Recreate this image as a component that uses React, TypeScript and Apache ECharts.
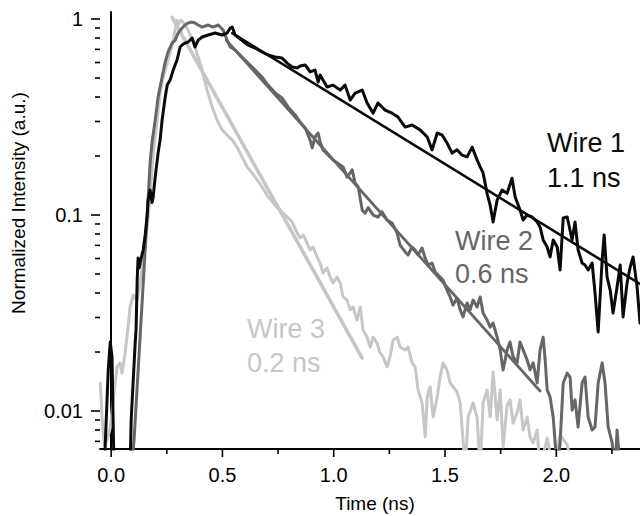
import React, { useEffect, useRef } from "react";
import * as echarts from "echarts";

const X_MIN = -0.05;
const X_MAX = 2.376;
const Y_MIN = 0.0064;
const Y_MAX = 1.086;

const xMajorTicks = [0, 0.5, 1, 1.5, 2];
const xMinorTicks = [0.25, 0.75, 1.25, 1.75, 2.25];
const yMajorTicks = [0.01, 0.1, 1];
const yMinorTicks = [
  0.007, 0.008, 0.009,
  0.02, 0.03, 0.04, 0.05, 0.06, 0.07, 0.08, 0.09,
  0.2, 0.3, 0.4, 0.5, 0.6, 0.7, 0.8, 0.9,
];

const xAxisTitle = "Time (ns)";
const yAxisTitle = "Normalized Intensity (a.u.)";

// Wire 1 measured decay [time ns, normalized intensity]
const wire1Data: [number, number][] = [
  [-0.031, 0.005], [-0.013, 0.0162], [-0.004, 0.0225], [0.004, 0.0189], [0.013, 0.005],
  [0.085, 0.005], [0.09, 0.009], [0.108, 0.0222], [0.112, 0.0259], [0.117, 0.0466],
  [0.121, 0.0603], [0.126, 0.0537], [0.135, 0.0603], [0.144, 0.0663], [0.153, 0.0791],
  [0.162, 0.1], [0.166, 0.119], [0.175, 0.134], [0.184, 0.116], [0.189, 0.124],
  [0.198, 0.156], [0.211, 0.207], [0.22, 0.241], [0.229, 0.305], [0.243, 0.4],
  [0.252, 0.46], [0.265, 0.488], [0.279, 0.549], [0.296, 0.618], [0.31, 0.72],
  [0.319, 0.737], [0.332, 0.754], [0.346, 0.763], [0.364, 0.8], [0.377, 0.72],
  [0.391, 0.781], [0.409, 0.81], [0.436, 0.829], [0.467, 0.848], [0.499, 0.829],
  [0.521, 0.848], [0.535, 0.9], [0.544, 0.91], [0.557, 0.829], [0.58, 0.791],
  [0.615, 0.737], [0.647, 0.711], [0.678, 0.679], [0.705, 0.655], [0.737, 0.64],
  [0.768, 0.632], [0.791, 0.596], [0.813, 0.569], [0.836, 0.562], [0.849, 0.576],
  [0.872, 0.583], [0.894, 0.537], [0.916, 0.549], [0.93, 0.477], [0.939, 0.518],
  [0.97, 0.45], [0.997, 0.46], [1.029, 0.434], [1.051, 0.46], [1.074, 0.386],
  [1.096, 0.419], [1.128, 0.434], [1.15, 0.373], [1.177, 0.331], [1.199, 0.373],
  [1.231, 0.343], [1.262, 0.331], [1.289, 0.316], [1.321, 0.281], [1.352, 0.288],
  [1.388, 0.272], [1.42, 0.25], [1.442, 0.215], [1.465, 0.262], [1.487, 0.256],
  [1.509, 0.233], [1.532, 0.207], [1.554, 0.215], [1.577, 0.202], [1.599, 0.198],
  [1.622, 0.222], [1.644, 0.191], [1.658, 0.176], [1.671, 0.164], [1.689, 0.129],
  [1.703, 0.112], [1.716, 0.0921], [1.734, 0.119], [1.756, 0.134], [1.779, 0.129],
  [1.801, 0.154], [1.815, 0.124], [1.837, 0.106], [1.851, 0.0943], [1.869, 0.1],
  [1.891, 0.0977], [1.914, 0.0921], [1.927, 0.0869], [1.941, 0.0746], [1.959, 0.0687],
  [1.972, 0.0611], [1.986, 0.0746], [2.004, 0.0687], [2.017, 0.0524], [2.031, 0.0965],
  [2.049, 0.0977], [2.071, 0.0746], [2.084, 0.0921], [2.098, 0.0663], [2.116, 0.0569],
  [2.129, 0.0556], [2.143, 0.0524], [2.161, 0.0569], [2.174, 0.04], [2.188, 0.0253],
  [2.206, 0.0589], [2.215, 0.0791], [2.228, 0.0483], [2.242, 0.0414], [2.255, 0.0316],
  [2.273, 0.0429], [2.287, 0.0556], [2.3, 0.0302], [2.318, 0.045], [2.332, 0.0543],
  [2.345, 0.0611], [2.363, 0.0429], [2.376, 0.0281],
];

// Wire 2 measured decay
const wire2Data: [number, number][] = [
  [0.09, 0.005], [0.103, 0.00711], [0.166, 0.119], [0.175, 0.184], [0.184, 0.236],
  [0.198, 0.305], [0.211, 0.4], [0.229, 0.506], [0.243, 0.604], [0.256, 0.679],
  [0.274, 0.754], [0.288, 0.781], [0.301, 0.848], [0.319, 0.9], [0.332, 0.932],
  [0.346, 0.954], [0.364, 0.965], [0.377, 0.954], [0.391, 0.932], [0.409, 0.91],
  [0.436, 0.932], [0.458, 0.91], [0.481, 0.932], [0.503, 0.879], [0.521, 0.781],
  [0.535, 0.72], [0.557, 0.695], [0.588, 0.64], [0.615, 0.596], [0.647, 0.549],
  [0.678, 0.506], [0.705, 0.46], [0.737, 0.419], [0.768, 0.395], [0.795, 0.356],
  [0.827, 0.324], [0.849, 0.298], [0.872, 0.278], [0.894, 0.241], [0.903, 0.22],
  [0.916, 0.25], [0.93, 0.262], [0.939, 0.236], [0.952, 0.215], [0.997, 0.191],
  [1.042, 0.176], [1.06, 0.156], [1.083, 0.17], [1.096, 0.146], [1.11, 0.139],
  [1.128, 0.106], [1.141, 0.102], [1.155, 0.109], [1.177, 0.1], [1.199, 0.0977],
  [1.217, 0.104], [1.24, 0.0943], [1.262, 0.091], [1.285, 0.0809], [1.298, 0.0703],
  [1.321, 0.0648], [1.334, 0.0625], [1.352, 0.0687], [1.366, 0.0663], [1.379, 0.0625],
  [1.397, 0.0679], [1.411, 0.0603], [1.424, 0.0556], [1.442, 0.0569], [1.456, 0.0512],
  [1.478, 0.0483], [1.491, 0.0466], [1.509, 0.0414], [1.523, 0.0382], [1.536, 0.0347],
  [1.554, 0.0377], [1.568, 0.0328], [1.581, 0.0302], [1.599, 0.0356], [1.613, 0.0328],
  [1.626, 0.0368], [1.644, 0.0339], [1.658, 0.0382], [1.671, 0.0316], [1.689, 0.0291],
  [1.703, 0.0268], [1.716, 0.0281], [1.734, 0.0238], [1.748, 0.0205], [1.756, 0.0176],
  [1.761, 0.0162], [1.779, 0.0205], [1.792, 0.0225], [1.806, 0.0189], [1.824, 0.0176],
  [1.837, 0.0225], [1.851, 0.0205], [1.869, 0.0182], [1.882, 0.0162], [1.896, 0.0176],
  [1.914, 0.0139], [1.927, 0.0205], [1.941, 0.0238], [1.95, 0.0182], [1.959, 0.0128],
  [1.972, 0.0118], [1.986, 0.00932], [2.004, 0.005], [2.017, 0.00687], [2.031, 0.0139],
  [2.049, 0.0156], [2.062, 0.0149], [2.071, 0.0101], [2.084, 0.0114], [2.098, 0.00829],
  [2.116, 0.0139], [2.129, 0.0149], [2.143, 0.00932], [2.161, 0.008], [2.174, 0.00829],
  [2.188, 0.0139], [2.206, 0.0176], [2.219, 0.0139], [2.233, 0.00829], [2.251, 0.00687],
  [2.264, 0.005], [2.273, 0.008], [2.287, 0.005], [2.376, 0.005],
];

// Wire 3 measured decay
const wire3Data: [number, number][] = [
  [-0.049, 0.0139], [-0.04, 0.009], [-0.031, 0.00671], [-0.018, 0.00711], [-0.004, 0.00819],
  [0.009, 0.0114], [0.027, 0.0168], [0.04, 0.0176], [0.049, 0.0156], [0.063, 0.0198],
  [0.076, 0.0268], [0.085, 0.0339], [0.099, 0.0391], [0.117, 0.0368], [0.13, 0.045],
  [0.144, 0.0589], [0.162, 0.0869], [0.175, 0.124], [0.189, 0.207], [0.207, 0.305],
  [0.22, 0.419], [0.234, 0.506], [0.252, 0.596], [0.265, 0.671], [0.279, 0.781],
  [0.288, 0.879], [0.296, 0.988], [0.301, 0.932], [0.314, 0.988], [0.323, 0.965],
  [0.346, 0.879], [0.377, 0.72], [0.409, 0.549], [0.431, 0.434], [0.454, 0.356],
  [0.476, 0.305], [0.499, 0.272], [0.521, 0.256], [0.544, 0.241], [0.566, 0.222],
  [0.588, 0.198], [0.611, 0.176], [0.633, 0.164], [0.656, 0.151], [0.678, 0.139],
  [0.705, 0.124], [0.737, 0.112], [0.759, 0.106], [0.791, 0.0977], [0.813, 0.0921],
  [0.836, 0.0809], [0.849, 0.0763], [0.863, 0.0791], [0.88, 0.072], [0.894, 0.0663],
  [0.907, 0.0687], [0.925, 0.0611], [0.939, 0.0569], [0.952, 0.0506], [0.97, 0.0537],
  [0.984, 0.0483], [0.997, 0.045], [1.015, 0.0483], [1.029, 0.045], [1.042, 0.0382],
  [1.06, 0.0368], [1.074, 0.0328], [1.087, 0.0339], [1.105, 0.0291], [1.119, 0.0339],
  [1.132, 0.0259], [1.15, 0.0238], [1.164, 0.0212], [1.177, 0.0238], [1.195, 0.0222],
  [1.208, 0.0198], [1.222, 0.0189], [1.24, 0.0168], [1.253, 0.0189], [1.267, 0.023],
  [1.285, 0.0238], [1.298, 0.0212], [1.321, 0.0205], [1.334, 0.0212], [1.352, 0.0176],
  [1.366, 0.0168], [1.379, 0.0128], [1.397, 0.011], [1.411, 0.00737], [1.42, 0.0118],
  [1.433, 0.0133], [1.447, 0.00932], [1.465, 0.0118], [1.478, 0.0149], [1.491, 0.0176],
  [1.509, 0.0162], [1.523, 0.0139], [1.536, 0.0133], [1.554, 0.0125], [1.568, 0.011],
  [1.581, 0.00711], [1.59, 0.005], [1.604, 0.00932], [1.626, 0.011], [1.644, 0.00932],
  [1.658, 0.005], [1.671, 0.011], [1.689, 0.0128], [1.703, 0.00932], [1.716, 0.0158],
  [1.734, 0.009], [1.748, 0.0128], [1.761, 0.00655], [1.779, 0.0107], [1.792, 0.0114],
  [1.806, 0.00869], [1.824, 0.00977], [1.837, 0.0114], [1.851, 0.008], [1.869, 0.00932],
  [1.882, 0.00737], [1.896, 0.00687], [1.914, 0.008], [1.927, 0.005], [1.959, 0.00728],
  [1.986, 0.005], [2.017, 0.00755], [2.049, 0.00671], [2.075, 0.005], [2.376, 0.005],
];

// Single-exponential fits (straight on the log axis): start and end points
const wire1Fit: [number, number][] = [[0.544, 0.848], [2.376, 0.0445]];
const wire2Fit: [number, number][] = [[0.517, 0.781], [1.927, 0.01265]];
const wire3Fit: [number, number][] = [[0.274, 1.02], [1.128, 0.01864]];

const wireLabels = ["Wire 1", "Wire 2", "Wire 3"];
const lifetimeLabels = ["1.1 ns", "0.6 ns", "0.2 ns"];

const FONT = "'Liberation Sans', Arial, Helvetica, sans-serif";
const C1 = "#0a0a0a";
const C2 = "#666666";
const C3 = "#c6c6c6";

function tickSeries(values: number[], axis: "x" | "y", len: number) {
  return {
    type: "custom",
    silent: true,
    clip: false,
    z: 5,
    data: values.map((v) => (axis === "x" ? [v, Y_MIN] : [X_MIN, v])),
    renderItem: (_p: any, api: any) => {
      const pt = api.coord([api.value(0), api.value(1)]);
      const shape =
        axis === "x"
          ? { x1: pt[0], y1: pt[1], x2: pt[0], y2: pt[1] + len }
          : { x1: pt[0] - len, y1: pt[1], x2: pt[0], y2: pt[1] };
      return { type: "line", shape, style: { stroke: "#000", lineWidth: 1.6 } };
    },
  };
}

function lineSeries(data: [number, number][], color: string, width: number, z: number) {
  return {
    type: "line",
    data,
    showSymbol: false,
    symbol: "none",
    clip: true,
    z,
    lineStyle: { color, width, join: "round", cap: "round" },
  };
}

export default function App() {
  const ref = useRef<HTMLDivElement>(null);
  useEffect(() => {
    if (!ref.current) return;
    const chart = echarts.init(ref.current, undefined, { renderer: "svg" });
    const textStyle = (color: string) => ({ fill: color, fontSize: 27, fontFamily: FONT });
    chart.setOption({
      animation: false,
      backgroundColor: "#ffffff",
      grid: { left: 100, right: 0, top: 12, bottom: 67, containLabel: false },
      xAxis: {
        type: "value",
        min: X_MIN,
        max: X_MAX,
        axisLine: { show: true, onZero: false, lineStyle: { color: "#000", width: 2 } },
        axisTick: { show: false },
        splitLine: { show: false },
        axisLabel: {
          margin: 16,
          color: "#000",
          fontSize: 20,
          fontFamily: FONT,
          showMinLabel: false,
          showMaxLabel: false,
          formatter: (v: number) =>
            xMajorTicks.some((t) => Math.abs(t - v) < 1e-6) ? v.toFixed(1) : "",
        },
      },
      yAxis: {
        type: "log",
        logBase: 10,
        min: Y_MIN,
        max: Y_MAX,
        axisLine: { show: true, lineStyle: { color: "#000", width: 2 } },
        axisTick: { show: false },
        splitLine: { show: false },
        axisLabel: {
          margin: 17,
          color: "#000",
          fontSize: 20,
          fontFamily: FONT,
          showMinLabel: false,
          showMaxLabel: false,
          formatter: (v: number) => {
            const hit = yMajorTicks.find((t) => Math.abs(Math.log10(v) - Math.log10(t)) < 1e-4);
            return hit !== undefined ? String(hit) : "";
          },
        },
      },
      graphic: [
        {
          type: "text",
          x: 18,
          y: 203,
          rotation: Math.PI / 2,
          style: {
            text: yAxisTitle,
            fill: "#000",
            fontSize: 19,
            fontFamily: FONT,
            align: "center",
            verticalAlign: "middle",
          },
        },
        {
          type: "text",
          x: 375,
          y: 503,
          style: {
            text: xAxisTitle,
            fill: "#000",
            fontSize: 19,
            fontFamily: FONT,
            align: "center",
            verticalAlign: "middle",
          },
        },
        { type: "text", x: 547, y: 143, style: { ...textStyle(C1), text: wireLabels[0], verticalAlign: "middle" } },
        { type: "text", x: 547, y: 178, style: { ...textStyle(C1), text: lifetimeLabels[0], verticalAlign: "middle" } },
        { type: "text", x: 455, y: 241, style: { ...textStyle(C2), text: wireLabels[1], verticalAlign: "middle" } },
        { type: "text", x: 455, y: 274, style: { ...textStyle(C2), text: lifetimeLabels[1], verticalAlign: "middle" } },
        { type: "text", x: 247, y: 329, style: { ...textStyle(C3), text: wireLabels[2], verticalAlign: "middle" } },
        { type: "text", x: 247, y: 363, style: { ...textStyle(C3), text: lifetimeLabels[2], verticalAlign: "middle" } },
      ],
      series: [
        lineSeries(wire3Data, C3, 3, 2),
        lineSeries(wire3Fit, C3, 3.6, 2),
        lineSeries(wire2Data, C2, 3, 3),
        lineSeries(wire2Fit, C2, 2.8, 3),
        lineSeries(wire1Data, C1, 3, 4),
        lineSeries(wire1Fit, C1, 2.6, 4),
        tickSeries(xMajorTicks, "x", 8),
        tickSeries(xMinorTicks, "x", 5),
        tickSeries(yMajorTicks, "y", 9),
        tickSeries(yMinorTicks, "y", 5),
      ],
    });
    return () => chart.dispose();
  }, []);
  return (
    <div
      ref={ref}
      style={{ position: "fixed", left: 0, top: 0, width: 640, height: 516, background: "#fff" }}
    />
  );
}
